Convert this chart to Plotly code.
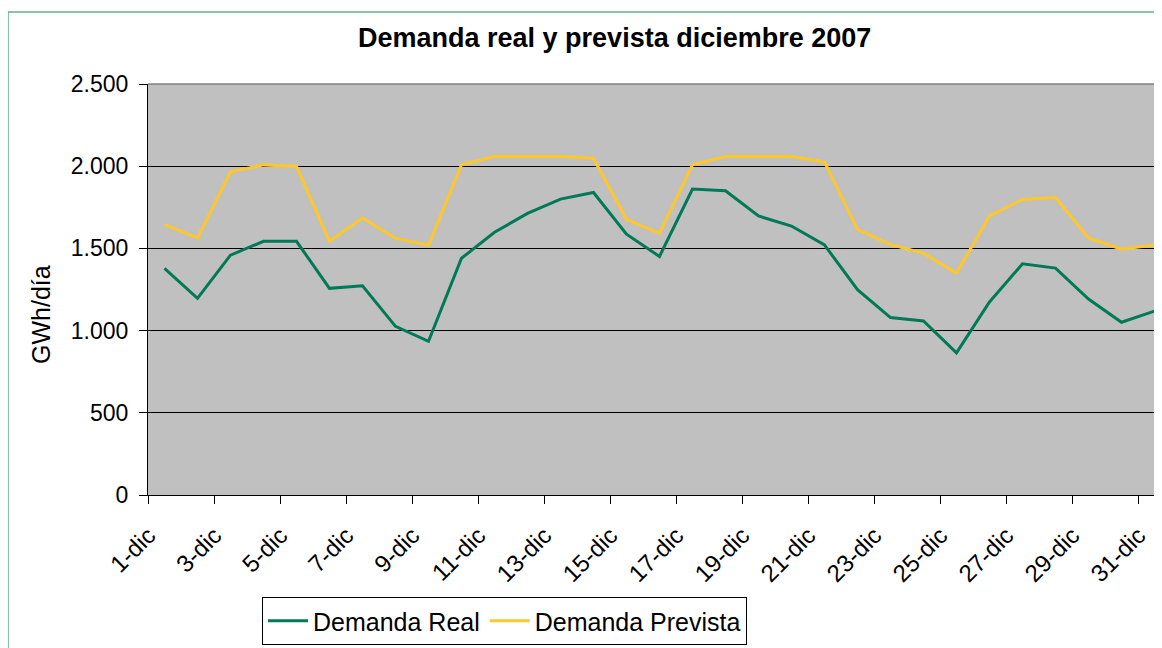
import plotly.graph_objects as go

dias = [f"{d}-dic" for d in range(1, 32)]
demanda_real = [1378, 1196, 1459, 1543, 1543, 1257, 1273, 1026, 935, 1440,
                1598, 1713, 1800, 1840, 1586, 1451, 1861, 1851, 1697, 1636,
                1521, 1249, 1079, 1059, 865, 1174, 1406, 1380, 1192, 1051, 1119]
demanda_prevista = [1644, 1564, 1966, 2008, 1998, 1543, 1685, 1562, 1519, 2008,
                    2059, 2059, 2059, 2048, 1677, 1592, 2008, 2059, 2059, 2059,
                    2026, 1616, 1523, 1471, 1350, 1697, 1798, 1810, 1564, 1495, 1521]
y_ticks = [0, 500, 1000, 1500, 2000, 2500]

FONT = "Liberation Sans, Arial, sans-serif"
OFF = 8  # page body margin
W, H = 1162 - OFF, 648 - OFF
L, R, T, B = 148 - OFF, 0, 84 - OFF, 648 - 495
pw, ph = W - L - R, H - T - B

def px(x):
    return (x - OFF - L) / pw

def py(y):
    return (H - B - (y - OFF)) / ph

fig = go.Figure()
fig.add_trace(go.Scatter(x=dias, y=demanda_real, mode="lines", name="Demanda Real",
                         line=dict(color="#007A56", width=3)))
fig.add_trace(go.Scatter(x=dias, y=demanda_prevista, mode="lines", name="Demanda Prevista",
                         line=dict(color="#FFC82A", width=3)))

fig.update_layout(
    width=W, height=H,
    margin=dict(l=L, r=R, t=T, b=B, autoexpand=False),
    paper_bgcolor="white", plot_bgcolor="#C0C0C0",
    separators=",.",
    font=dict(family=FONT, size=23, color="black"),
    showlegend=True,
    legend=dict(orientation="h", x=px(262), y=py(597), xanchor="left", yanchor="top",
                bordercolor="black", borderwidth=1, bgcolor="white",
                font=dict(size=25, family=FONT), itemwidth=40, tracegroupgap=0),
)
fig.update_xaxes(type="category", range=[-0.5, (1162 - 148 - 16.5) / 33.0],
                 tickmode="linear", tick0=0, dtick=2, tickson="boundaries",
                 ticks="outside", ticklen=8, tickcolor="black", tickwidth=1,
                 tickangle=-45, showgrid=False, showline=True, linecolor="black",
                 linewidth=1, tickfont=dict(size=24, family=FONT), zeroline=False,
                 ticklabelshift=-16, ticklabelstandoff=16)
fig.update_yaxes(range=[0, 2500], tickmode="array", tickvals=y_ticks, tickformat=",d",
                 ticks="outside", ticklen=8, tickcolor="black", showgrid=True,
                 gridcolor="black", gridwidth=1, showline=True, linecolor="black",
                 linewidth=1, zeroline=False, tickfont=dict(size=23, family=FONT),
                 ticklabelstandoff=6)

# top border of plot area
fig.add_shape(type="line", xref="paper", yref="paper", x0=0, x1=1, y0=1, y1=1,
              line=dict(color="#808080", width=1.5))
# outer green frame
fig.add_shape(type="rect", xref="paper", yref="paper", x0=px(8), x1=px(1200),
              y0=py(700), y1=py(12), line=dict(color="#5DB585", width=1.5), layer="below")

fig.add_annotation(text="<b>Demanda real y prevista diciembre 2007</b>", xref="paper", yref="paper",
                   x=px(614.5), y=py(38), xanchor="center", yanchor="middle", showarrow=False,
                   font=dict(size=27, family=FONT))
fig.add_annotation(text="GWh/día", xref="paper", yref="paper", x=px(41), y=py(315),
                   xanchor="center", yanchor="middle", textangle=-90, showarrow=False,
                   font=dict(size=25, family=FONT))

fig.write_html("out.html")
